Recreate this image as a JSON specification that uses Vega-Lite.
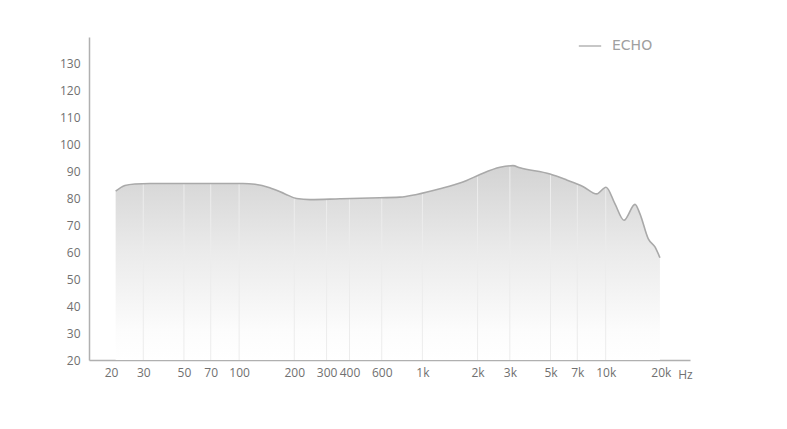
{
  "$schema": "https://vega.github.io/schema/vega-lite/v6.json",
  "width": 601,
  "height": 323,
  "autosize": {"type": "none"},
  "padding": {"left": 89, "top": 37, "right": 97, "bottom": 69},
  "background": "#ffffff",
  "config": {
    "view": {"stroke": null},
    "font": "Open Sans"
  },
  "datasets": {
    "curve": [
      {"f": 21.2, "db": 82.7, "series": "ECHO"},
      {"f": 23.8, "db": 84.8, "series": "ECHO"},
      {"f": 27, "db": 85.4, "series": "ECHO"},
      {"f": 32.6, "db": 85.6, "series": "ECHO"},
      {"f": 61, "db": 85.6, "series": "ECHO"},
      {"f": 105, "db": 85.6, "series": "ECHO"},
      {"f": 122, "db": 85.3, "series": "ECHO"},
      {"f": 147, "db": 84.0, "series": "ECHO"},
      {"f": 178, "db": 81.7, "series": "ECHO"},
      {"f": 206, "db": 80.0, "series": "ECHO"},
      {"f": 244, "db": 79.6, "series": "ECHO"},
      {"f": 355, "db": 79.9, "series": "ECHO"},
      {"f": 517, "db": 80.2, "series": "ECHO"},
      {"f": 754, "db": 80.5, "series": "ECHO"},
      {"f": 931, "db": 81.5, "series": "ECHO"},
      {"f": 1246, "db": 83.6, "series": "ECHO"},
      {"f": 1744, "db": 86.7, "series": "ECHO"},
      {"f": 2060, "db": 88.9, "series": "ECHO"},
      {"f": 2650, "db": 91.6, "series": "ECHO"},
      {"f": 3120, "db": 92.2, "series": "ECHO"},
      {"f": 3405, "db": 91.4, "series": "ECHO"},
      {"f": 4970, "db": 89.1, "series": "ECHO"},
      {"f": 6120, "db": 86.9, "series": "ECHO"},
      {"f": 7550, "db": 84.4, "series": "ECHO"},
      {"f": 8930, "db": 81.7, "series": "ECHO"},
      {"f": 10040, "db": 84.2, "series": "ECHO"},
      {"f": 11240, "db": 78.0, "series": "ECHO"},
      {"f": 12580, "db": 71.9, "series": "ECHO"},
      {"f": 14450, "db": 77.8, "series": "ECHO"},
      {"f": 15380, "db": 74.3, "series": "ECHO"},
      {"f": 17080, "db": 65.0, "series": "ECHO"},
      {"f": 18570, "db": 62.0, "series": "ECHO"},
      {"f": 19770, "db": 58.0, "series": "ECHO"}
    ],
    "grid": [
      {"f": 30, "db": 20, "hi": 85.4},
      {"f": 50, "db": 20, "hi": 85.6},
      {"f": 70, "db": 20, "hi": 85.6},
      {"f": 100, "db": 20, "hi": 85.6},
      {"f": 200, "db": 20, "hi": 80.1},
      {"f": 300, "db": 20, "hi": 79.7},
      {"f": 400, "db": 20, "hi": 79.9},
      {"f": 600, "db": 20, "hi": 80.3},
      {"f": 1000, "db": 20, "hi": 81.7},
      {"f": 2000, "db": 20, "hi": 88.6},
      {"f": 3000, "db": 20, "hi": 92.1},
      {"f": 5000, "db": 20, "hi": 89.1},
      {"f": 7000, "db": 20, "hi": 85.0},
      {"f": 10000, "db": 20, "hi": 84.1}
    ]
  },
  "encoding": {
    "x": {
      "field": "f", "type": "quantitative",
      "scale": {"type": "log", "domain": [15.17, 28840], "nice": false},
      "axis": {
        "values": [20, 30, 50, 70, 100, 200, 300, 400, 600, 1000, 2000, 3000, 5000, 7000, 10000, 20000],
        "labelExpr": "datum.value >= 1000 ? (datum.value / 1000) + 'k' : datum.value",
        "grid": false,
        "ticks": false,
        "domainColor": "#b0b0b0",
        "domainWidth": 1.5,
        "labelColor": "#707070",
        "labelFontSize": 12,
        "labelPadding": 7,
        "labelFlush": false,
        "labelOverlap": false,
        "title": "Hz",
        "titleX": 596,
        "titleY": 14,
        "titleAlign": "center",
        "titleBaseline": "middle",
        "titleFontWeight": "normal",
        "titleFontSize": 12,
        "titleColor": "#707070"
      }
    },
    "y": {
      "field": "db", "type": "quantitative",
      "scale": {"domain": [20, 140], "nice": false},
      "axis": {
        "values": [20, 30, 40, 50, 60, 70, 80, 90, 100, 110, 120, 130],
        "grid": false,
        "ticks": false,
        "domainColor": "#b0b0b0",
        "domainWidth": 1.5,
        "labelColor": "#707070",
        "labelFontSize": 12,
        "labelPadding": 9,
        "labelOverlap": false,
        "title": null
      }
    }
  },
  "layer": [
    {
      "data": {"name": "curve"},
      "mark": {
        "type": "area",
        "interpolate": "monotone",
        "color": {
          "gradient": "linear",
          "x1": 0, "y1": 0, "x2": 0, "y2": 1,
          "stops": [
            {"offset": 0, "color": "#d3d3d3"},
            {"offset": 0.45, "color": "#ebebeb"},
            {"offset": 0.85, "color": "#fcfcfc"},
            {"offset": 1, "color": "#ffffff"}
          ]
        }
      },
      "encoding": {
        "y2": {"datum": 20}
      }
    },
    {
      "data": {"name": "grid"},
      "mark": {"type": "rule", "color": "#ececec", "strokeWidth": 1},
      "encoding": {
        "y2": {"field": "hi"}
      }
    },
    {
      "data": {"name": "curve"},
      "mark": {"type": "line", "interpolate": "monotone", "strokeWidth": 1.6},
      "encoding": {
        "color": {
          "field": "series", "type": "nominal",
          "scale": {"range": ["#a9a9a9"]},
          "legend": {
            "orient": "none",
            "legendX": 489,
            "legendY": -3,
            "title": null,
            "symbolType": "stroke",
            "symbolSize": 500,
            "symbolStrokeWidth": 1.3,
            "labelFontSize": 14,
            "labelColor": "#a0a0a0",
            "labelFont": "DejaVu Sans",
            "labelOffset": 10
          }
        }
      }
    }
  ]
}
